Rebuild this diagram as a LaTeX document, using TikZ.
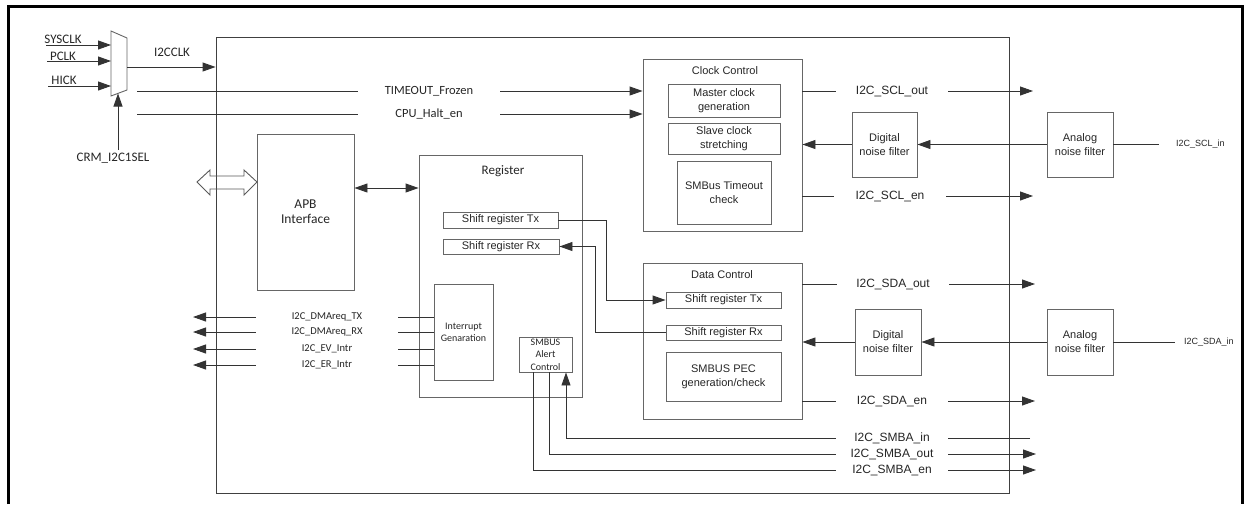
\documentclass[tikz,border=0pt]{standalone}
\usepackage{fontspec}
\setmainfont{Carlito}
\newfontfamily\arialf{Liberation Sans}
\usetikzlibrary{arrows.meta}
\begin{document}
\begin{tikzpicture}[x=1pt,y=-1pt,
  box/.style={draw=black!60,line width=0.9pt,inner sep=0pt,align=center,text=black!85,font=\arialf\fontsize{11}{14}\selectfont},
  cbox/.style={box,font=\fontsize{13.5}{15}\selectfont},
  ln/.style={draw=black!80,line width=0.9pt},
  arr/.style={ln,-{Triangle[length=13pt,width=9pt]}},
  darr/.style={ln,{Triangle[length=13pt,width=9pt]}-{Triangle[length=13pt,width=9pt]}},
  ttl/.style={text=black!85,inner sep=0pt,font=\arialf\fontsize{11}{14}\selectfont},
  clbl/.style={text=black!85,inner sep=0pt,font=\fontsize{13}{15}\selectfont},
  sigr/.style={fill=white,inner xsep=0pt,inner ysep=1pt,minimum width=112pt,text=black!85,font=\arialf\fontsize{12}{14}\selectfont},
  sigl/.style={fill=white,inner xsep=0pt,inner ysep=1pt,minimum width=142pt,text=black!85,font=\fontsize{12.5}{14}\selectfont},
  sigi/.style={fill=white,inner xsep=0pt,inner ysep=0.5pt,minimum width=142pt,text=black!85,font=\fontsize{10.5}{12}\selectfont},
  pin/.style={text=black!85,inner sep=0pt,anchor=west,font=\arialf\fontsize{9}{11}\selectfont}
]
\useasboundingbox (0,0) rectangle (1248,504);
% outer frame
\draw[line width=3pt] (8.5,504) -- (8.5,6.5) -- (1242,6.5) -- (1242,504);

% main block
\node[box,draw=black!75,minimum width=793pt,minimum height=456pt] (main) at (612.5,265) {};

% mux
\coordinate (mA) at (111,31); \coordinate (mB) at (127,38);
\coordinate (mC) at (127,90); \coordinate (mD) at (111,96);
\draw[box] (mA) -- (mB) -- (mC) -- (mD) -- cycle;
\coordinate (m1) at (111,45); \coordinate (m2) at (111,61); \coordinate (m3) at (111,86);
\coordinate (mo) at (127,67); \coordinate (ms) at (118,93.5);
\coordinate (s1) at (46,45); \coordinate (s2) at (47,61); \coordinate (s3) at (48,86);
\draw[arr] (s1) -- (m1);
\draw[arr] (s2) -- (m2);
\draw[arr] (s3) -- (m3);
\node[clbl] (lsys) at (63,39.5) {SYSCLK};
\node[clbl] (lpclk) at (63,56) {PCLK};
\node[clbl] (lhick) at (64,80) {HICK};
\draw[arr] (mo) -- (main.west |- mo);
\node[clbl] (li2cclk) at (172,52) {I2CCLK};
\coordinate (csel) at (118,150);
\draw[arr] (csel) -- (ms);
\node[clbl] (lcrm) at (113,158) {CRM\_I2C1SEL};

% clock control
\node[box,minimum width=159pt,minimum height=172pt] (clk) at (722.5,145) {};
\node[ttl] (clkt) at (725,71) {Clock Control};
\node[box,minimum width=112pt,minimum height=33pt] (mcg) at (724,100.5) {Master clock\\generation};
\node[box,minimum width=112pt,minimum height=31pt] (scs) at (724,138.5) {Slave clock\\stretching};
\node[box,minimum width=94pt,minimum height=63pt] (smbto) at (724,192.5) {SMBus Timeout\\check};

\coordinate (tf) at (137,91); \coordinate (ch) at (137,114);
\draw[arr] (tf) -- (clk.west |- tf);
\draw[arr] (ch) -- (clk.west |- ch);
\node[sigl] (ltf) at (429,91) {TIMEOUT\_Frozen};
\node[sigl] (lch) at (429,114) {CPU\_Halt\_en};

% SCL filters
\node[box,minimum width=65pt,minimum height=65pt] (dnf1) at (884.5,144.5) {Digital\\noise filter};
\node[box,minimum width=66pt,minimum height=65pt] (anf1) at (1080,144.5) {Analog\\noise filter};
\draw[arr] (dnf1.west) -- (clk.east |- dnf1.west);
\draw[arr] (anf1.west) -- (dnf1.east);
\coordinate (sclin) at (1159,144.5);
\draw[ln] (anf1.east) -- (sclin);
\node[pin] (lsclin) at (1176,144.5) {I2C\_SCL\_in};

\coordinate (sclo) at (1033,91); \coordinate (scle) at (1033,196);
\draw[arr] (clk.east |- sclo) -- (sclo);
\draw[arr] (clk.east |- scle) -- (scle);
\node[sigr] (lsclo) at (892,91) {I2C\_SCL\_out};
\node[sigr] (lscle) at (890,196) {I2C\_SCL\_en};

% APB
\node[cbox,minimum width=97pt,minimum height=156pt] (apb) at (305.5,212) {APB\\Interface};
\draw[black!65,line width=0.9pt] (197,182) -- (210,170) -- (210,176) -- (244,176) -- (244,170) -- (257,182)
  -- (244,195) -- (244,189) -- (210,189) -- (210,195) -- cycle;

% register
\node[box,minimum width=163pt,minimum height=242pt] (reg) at (500.5,276) {};
\node[clbl] (regt) at (503,171) {Register};
\node[box,minimum width=115pt,minimum height=16pt] (rtx) at (500.5,220) {Shift register Tx};
\node[box,minimum width=116pt,minimum height=15pt] (rrx) at (501,246.5) {Shift register Rx};
\node[box,font=\fontsize{10}{12}\selectfont,minimum width=59pt,minimum height=96pt] (intg) at (463.5,332) {Interrupt\\Genaration};
\node[box,font=\fontsize{10}{12.5}\selectfont,minimum width=53pt,minimum height=35pt] (sac) at (545.5,354.5) {SMBUS\\Alert\\Control};

\coordinate (ab) at (0,188);
\draw[darr] (apb.east |- ab) -- (reg.west |- ab);

% interrupt outputs
\coordinate (i1) at (193,317); \coordinate (i2) at (193,332);
\coordinate (i3) at (193,349); \coordinate (i4) at (193,365);
\draw[arr] (intg.west |- i1) -- (i1);
\draw[arr] (intg.west |- i2) -- (i2);
\draw[arr] (intg.west |- i3) -- (i3);
\draw[arr] (intg.west |- i4) -- (i4);
\node[sigi] (li1) at (327,317) {I2C\_DMAreq\_TX};
\node[sigi] (li2) at (327,332) {I2C\_DMAreq\_RX};
\node[sigi] (li3) at (327,349) {I2C\_EV\_Intr};
\node[sigi] (li4) at (327,365) {I2C\_ER\_Intr};

% data control
\node[box,minimum width=159pt,minimum height=156pt] (dat) at (722.5,341) {};
\node[ttl] (datt) at (722,275) {Data Control};
\node[box,minimum width=115pt,minimum height=16pt] (dtx) at (723.5,300) {Shift register Tx};
\node[box,minimum width=115pt,minimum height=15pt] (drx) at (723.5,332.5) {Shift register Rx};
\node[box,minimum width=115pt,minimum height=49pt] (pec) at (723.5,376.5) {SMBUS PEC\\generation/check};

\coordinate (tx1) at (606,0); \coordinate (rx1) at (595,0);
\draw[arr] (rtx.east) -| (tx1 |- dtx.west) -- (dtx.west);
\draw[arr] (drx.west) -| (rx1 |- rrx.east) -- (rrx.east);

% SDA filters
\node[box,minimum width=66pt,minimum height=66pt] (dnf2) at (888,342) {Digital\\noise filter};
\node[box,minimum width=66pt,minimum height=66pt] (anf2) at (1080,342) {Analog\\noise filter};
\draw[arr] (dnf2.west) -- (dat.east |- dnf2.west);
\draw[arr] (anf2.west) -- (dnf2.east);
\coordinate (sdain) at (1175,342);
\draw[ln] (anf2.east) -- (sdain);
\node[pin] (lsdain) at (1184,342) {I2C\_SDA\_in};

\coordinate (sdao) at (1035,284); \coordinate (sdae) at (1035,401);
\draw[arr] (dat.east |- sdao) -- (sdao);
\draw[arr] (dat.east |- sdae) -- (sdae);
\node[sigr] (lsdao) at (893,284) {I2C\_SDA\_out};
\node[sigr] (lsdae) at (892,401) {I2C\_SDA\_en};

% SMBA
\coordinate (smbi) at (1030,438); \coordinate (smbo) at (1036,454); \coordinate (smbe) at (1036,470);
\draw[arr] (smbi) -| ([xshift=20.5pt]sac.south);
\draw[arr] ([xshift=3.5pt]sac.south) |- (smbo);
\draw[arr] ([xshift=-12.5pt]sac.south) |- (smbe);
\node[sigr] (lsmbi) at (892,438) {I2C\_SMBA\_in};
\node[sigr] (lsmbo) at (892,454) {I2C\_SMBA\_out};
\node[sigr] (lsmbe) at (892,470) {I2C\_SMBA\_en};
\end{tikzpicture}
\end{document}
